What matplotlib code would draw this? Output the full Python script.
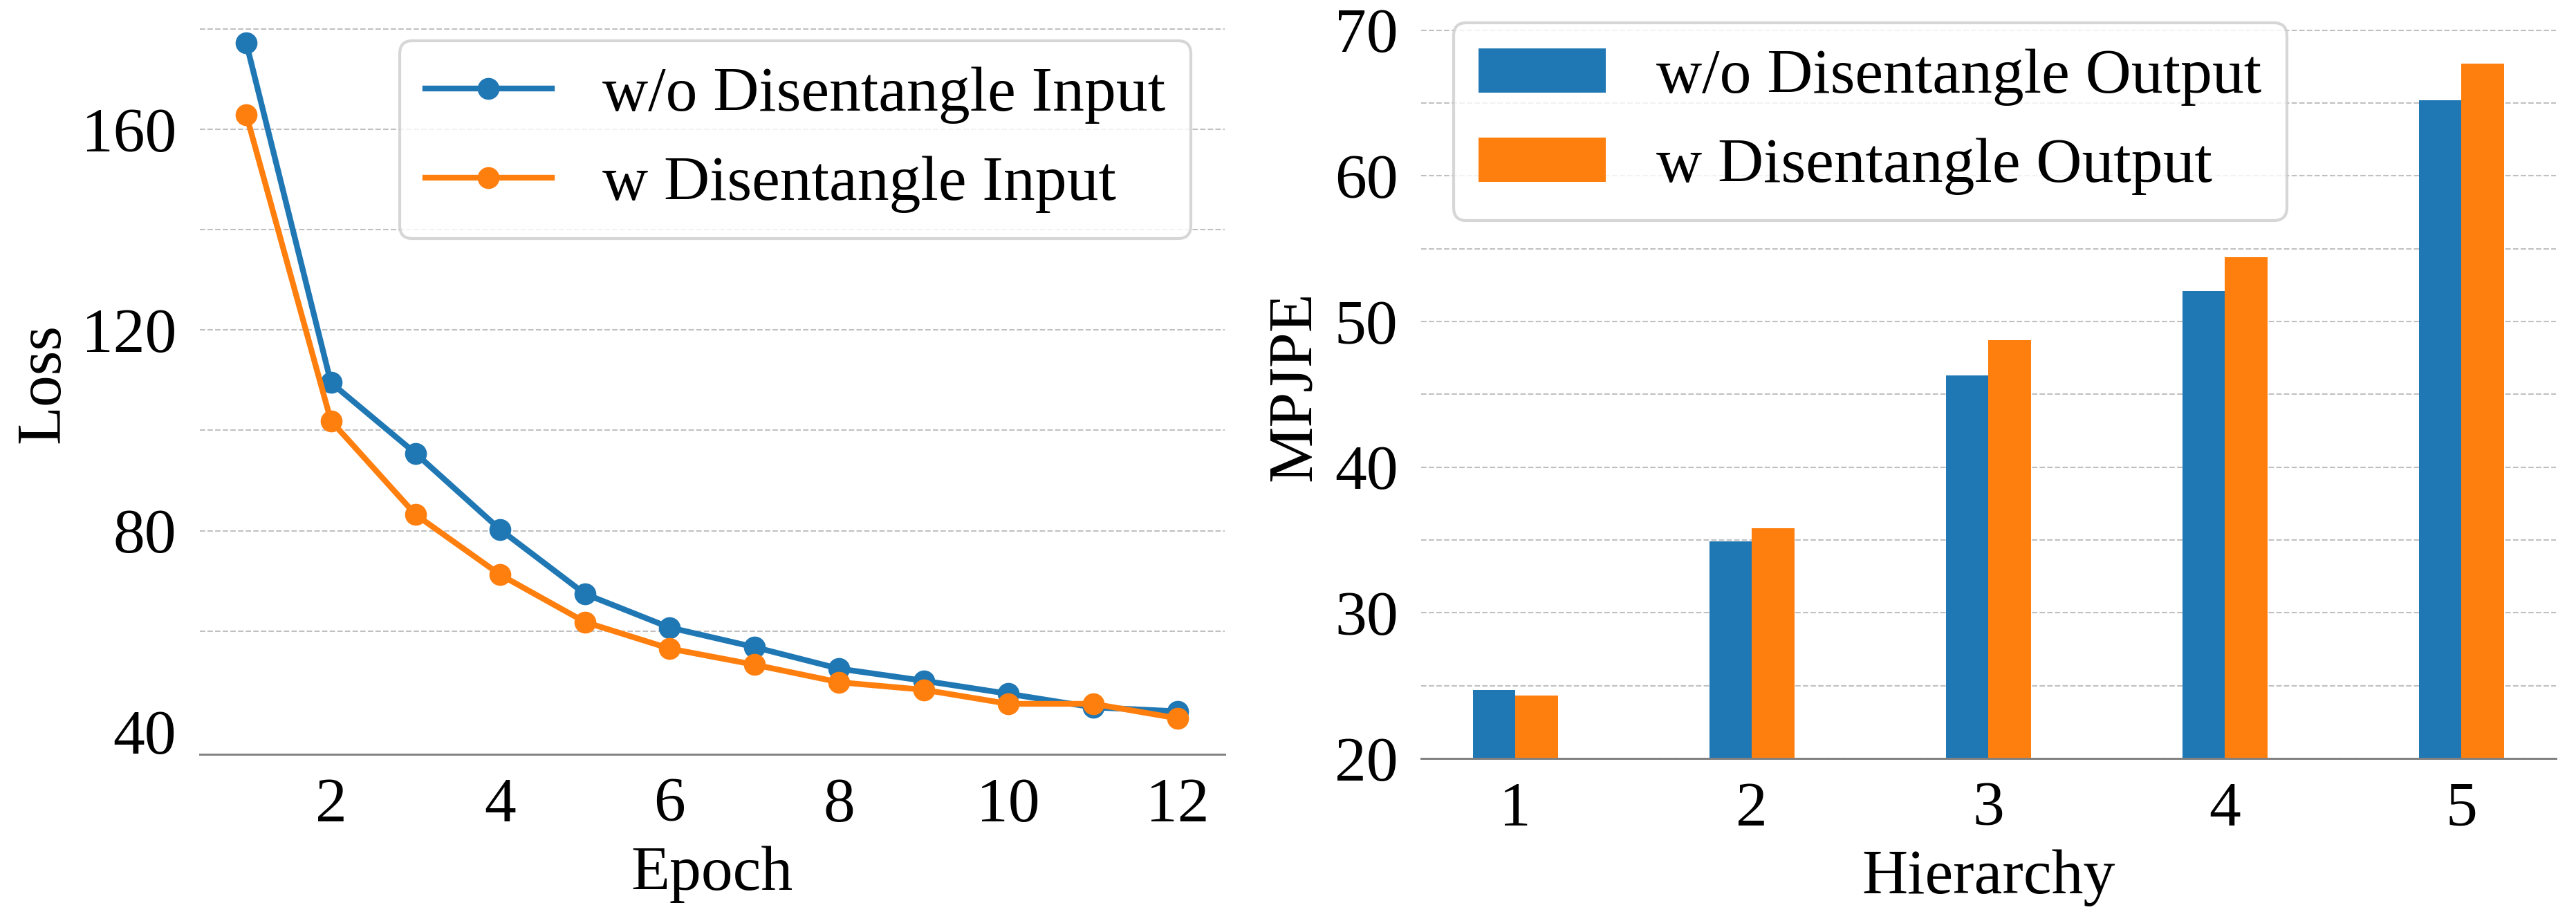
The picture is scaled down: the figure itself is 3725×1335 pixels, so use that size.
import matplotlib
matplotlib.use("Agg")
import matplotlib.pyplot as plt
import numpy as np

# ---------------- data ----------------
epochs = [1, 2, 3, 4, 5, 6, 7, 8, 9, 10, 11, 12]
loss_wo_input = [177.2, 109.5, 95.4, 80.2, 67.4, 60.7, 56.8, 52.5, 50.1, 47.5, 44.8, 44.0]
loss_w_input = [162.9, 101.9, 83.2, 71.2, 61.8, 56.5, 53.3, 49.8, 48.3, 45.5, 45.5, 42.6]

hierarchy = [1, 2, 3, 4, 5]
mpjpe_wo_output = [24.7, 34.9, 46.3, 52.1, 65.2]
mpjpe_w_output = [24.3, 35.8, 48.7, 54.4, 67.7]

label_wo_in = "w/o Disentangle Input"
label_w_in = "w Disentangle Input"
label_wo_out = "w/o Disentangle Output"
label_w_out = "w Disentangle Output"

loss_major = [40, 80, 120, 160]
loss_minor = [60, 100, 140, 180]
mpjpe_major = [20, 30, 40, 50, 60, 70]
mpjpe_minor = [25, 35, 45, 55, 65]
epoch_ticks = [2, 4, 6, 8, 10, 12]

# ---------------- style ----------------
plt.rcParams['font.family'] = ['Liberation Serif', 'DejaVu Serif']
plt.rcParams['font.size'] = 22
plt.rcParams['axes.unicode_minus'] = False

BLUE = '#1f77b4'
ORANGE = '#ff7f0e'
GRID = '#c0c0c0'
SPINE = '#808080'

W, H = 3725, 1335
DPI = 300
fig = plt.figure(figsize=(W / DPI, H / DPI), dpi=DPI)


def fx(px):
    return px / W


def fy(py):
    return 1 - py / H


def style_axes(ax):
    for s in ['left', 'right', 'top']:
        ax.spines[s].set_visible(False)
    ax.spines['bottom'].set_color(SPINE)
    ax.spines['bottom'].set_linewidth(0.7)
    ax.spines['bottom'].set_zorder(5)
    ax.tick_params(axis='both', which='both', length=0, pad=8, labelsize=22)
    ax.set_axisbelow(True)
    ax.grid(False, axis='x')
    ax.grid(True, axis='y', which='both', color=GRID, linestyle='--', linewidth=0.5)


# ---------------- left: loss curves ----------------
ax1 = fig.add_axes([fx(288.7), fy(1090.7), (1770.6 - 288.7) / W, (1090.7 - 18) / H])
ax1.plot(epochs, loss_wo_input, color=BLUE, marker='o', linewidth=2,
         markersize=7.6, markeredgewidth=0, label=label_wo_in, zorder=3)
ax1.plot(epochs, loss_w_input, color=ORANGE, marker='o', linewidth=2,
         markersize=7.6, markeredgewidth=0, label=label_w_in, zorder=3)
ax1.set_xlim(0.45, 12.55)
ax1.set_ylim(35.48, 183.27)
ax1.set_xticks(epoch_ticks)
ax1.set_yticks(loss_major)
ax1.set_yticks(loss_minor, minor=True)
style_axes(ax1)
ticks = ax1.yaxis.get_major_ticks()
ticks[0].gridline.set_visible(False)
ax1.set_xlabel("Epoch", fontsize=22)
ax1.set_ylabel("Loss", fontsize=22)
ax1.yaxis.set_label_coords(-0.1242, 0.5)
ax1.xaxis.set_label_coords(0.5, -0.1237)
ax1.legend(loc='upper right', bbox_to_anchor=(fx(1722), fy(59.3)),
           bbox_transform=fig.transFigure, borderaxespad=0, fontsize=22,
           frameon=True, fancybox=True, framealpha=0.8, edgecolor='0.8')

# ---------------- right: MPJPE bars ----------------
ax2 = fig.add_axes([fx(2055), fy(1097), (3695.5 - 2055) / W, (1097 - 20) / H])
x = np.array(hierarchy, dtype=float)
bw = 0.18
ax2.bar(x - bw / 2, mpjpe_wo_output, width=bw, color=BLUE, label=label_wo_out,
        linewidth=0, zorder=3)
ax2.bar(x + bw / 2, mpjpe_w_output, width=bw, color=ORANGE, label=label_w_out,
        linewidth=0, zorder=3)
ax2.set_xlim(0.602, 5.398)
ax2.set_ylim(20, 71.125)
ax2.set_xticks(hierarchy)
ax2.set_yticks(mpjpe_major)
ax2.set_yticks(mpjpe_minor, minor=True)
style_axes(ax2)
ax2.set_xlabel("Hierarchy", fontsize=22)
ax2.set_ylabel("MPJPE", fontsize=22)
ax2.yaxis.set_label_coords(-0.0859, 0.5)
ax2.xaxis.set_label_coords(0.5, -0.122)
ax2.legend(loc='upper left', bbox_to_anchor=(fx(2101.7), fy(33.3)),
           bbox_transform=fig.transFigure, borderaxespad=0, fontsize=22,
           frameon=True, fancybox=True, framealpha=0.8, edgecolor='0.8')

fig.savefig("out.png", dpi=DPI)
